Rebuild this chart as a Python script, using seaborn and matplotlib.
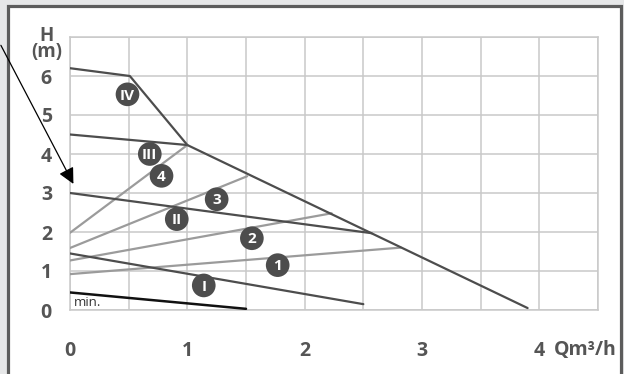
import matplotlib
matplotlib.use("Agg")
from matplotlib import pyplot as plt
from matplotlib.patches import Rectangle
import pandas as pd
import seaborn as sns

# pump speed curves (dark)
speed_iv_q = [0, 0.51, 1.0, 3.9]
speed_iv_h = [6.2, 6.0, 4.23, 0.05]
speed_iii_q = [0, 1.0]
speed_iii_h = [4.5, 4.23]
speed_ii_q = [0, 2.57]
speed_ii_h = [3.0, 1.97]
speed_i_q = [0, 2.5]
speed_i_h = [1.45, 0.15]
min_q = [0, 1.5]
min_h = [0.45, 0.03]

# system curves (light)
sys_4_q = [0, 1.0]
sys_4_h = [1.98, 4.23]
sys_3_q = [0, 1.51]
sys_3_h = [1.59, 3.43]
sys_2_q = [0, 2.23]
sys_2_h = [1.27, 2.48]
sys_1_q = [0, 2.82]
sys_1_h = [0.92, 1.6]

# circled labels
label_text = ["IV", "III", "4", "3", "II", "2", "1", "I"]
label_q = [0.49, 0.68, 0.78, 1.25, 0.91, 1.55, 1.77, 1.14]
label_h = [5.53, 4.0, 3.44, 2.84, 2.33, 1.84, 1.15, 0.63]

x_ticks = [0, 0.5, 1, 1.5, 2, 2.5, 3, 3.5, 4, 4.5]
x_labels = ["0", "", "1", "", "2", "", "3", "", "4", ""]
y_ticks = [0, 1, 2, 3, 4, 5, 6, 7]
y_labels = ["0", "1", "2", "3", "4", "5", "6", ""]

DARK = "#4d4d4d"
LIGHT = "#9b9b9b"
GRID = "#c9c9c9"
TEXT = "#555555"

sns.set_style("white")
plt.rcParams["font.family"] = ["Open Sans", "DejaVu Sans"]

fig = plt.figure(figsize=(6.24, 3.74), dpi=100)
fig.patch.set_facecolor("#e6e7e8")
frame = Rectangle((8 / 624, -0.05), 613 / 624, 1.05 - 6 / 374,
                  transform=fig.transFigure, facecolor="white",
                  edgecolor="#5c5c5c", linewidth=2.3, zorder=-10)
fig.patches.append(frame)
ax = fig.add_axes([70 / 624, 64 / 374, 528 / 624, 273 / 374])
ax.set_zorder(1)
ax.set_facecolor("white")

def draw(q, h, color, lw=1.6):
    df = pd.DataFrame({"q": q, "h": h})
    sns.lineplot(data=df, x="q", y="h", ax=ax, color=color, linewidth=lw,
                 sort=False, estimator=None, zorder=3)

for q, h in [(sys_4_q, sys_4_h), (sys_3_q, sys_3_h), (sys_2_q, sys_2_h), (sys_1_q, sys_1_h)]:
    draw(q, h, LIGHT)
for q, h in [(speed_iv_q, speed_iv_h), (speed_iii_q, speed_iii_h),
             (speed_ii_q, speed_ii_h), (speed_i_q, speed_i_h)]:
    draw(q, h, DARK)
draw(min_q, min_h, "#111111", lw=1.8)

labels = pd.DataFrame({"q": label_q, "h": label_h, "t": label_text})
sns.scatterplot(data=labels, x="q", y="h", ax=ax, s=290, color=DARK,
                edgecolor="none", zorder=4)
for _, r in labels.iterrows():
    ax.text(r["q"], r["h"] - 0.03, r["t"], color="white", fontsize=11,
            fontweight="bold", ha="center", va="center", zorder=5)

ax.text(0.03, 0.2, "min.", color="#333333", fontsize=9.5, ha="left", va="center")

ax.set_xlim(0, 4.5)
ax.set_ylim(0, 7)
ax.set_xticks(x_ticks)
ax.set_xticklabels(x_labels)
ax.set_yticks(y_ticks)
ax.set_yticklabels(y_labels)
ax.tick_params(axis="x", length=0, pad=22, labelsize=14, labelcolor=TEXT)
ax.tick_params(axis="y", length=0, pad=13, labelsize=14, labelcolor=TEXT)
for lbl in ax.get_xticklabels() + ax.get_yticklabels():
    lbl.set_fontweight("bold")
ax.grid(True, color=GRID, linewidth=1.1)
ax.set_axisbelow(True)
for s in ax.spines.values():
    s.set_color(GRID)
    s.set_linewidth(1.1)
ax.set_xlabel("")
ax.set_ylabel("")

ax.text(-0.2, 7.28, "H\n(m)", ha="center", va="top", fontsize=13.5,
        fontweight="bold", color=TEXT, linespacing=0.72, clip_on=False)
ax.text(4.12, -1.03, "Qm³/h", ha="left", va="center", fontsize=14,
        fontweight="bold", color=TEXT, clip_on=False)

ax.annotate("", xy=(0.04, 3.17), xytext=(-0.6, 6.85),
            arrowprops=dict(arrowstyle="-|>", color="black", lw=0.9,
                            mutation_scale=24), annotation_clip=False)

fig.savefig("out.png", dpi=100, facecolor=fig.get_facecolor())
